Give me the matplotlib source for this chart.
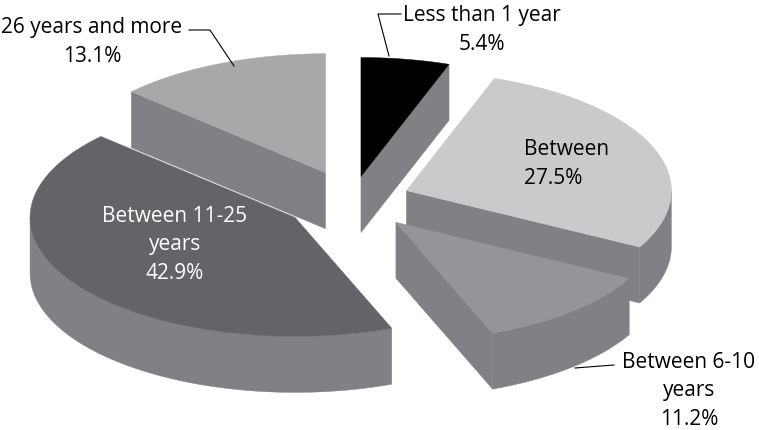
import numpy as np
import matplotlib.pyplot as plt
from matplotlib.patches import Polygon

plt.rcParams['font.family'] = ['Open Sans', 'DejaVu Sans']

# slices, clockwise from 12 o'clock
labels = ["Less than 1 year", "Between", "Between 6-10\nyears", "Between 11-25\nyears", "26 years and more"]
shares = [5.4, 27.5, 11.2, 42.9, 13.1]

top_colors = ["#000000", "#c9cacc", "#939598", "#636467", "#a7a8aa"]
side_color = "#808185"
explode = [0.20, 0.22, 0.25, 0.26, 0.25]

W, H = 759, 431
cx, cy = 352, 201      # pie centre (pixels)
rx, ry = 265, 119      # top ellipse radii
depth = 56             # thickness of the disc


def rim(t, ox, oy, z=0.0):
    t = np.radians(t)
    return np.column_stack([cx + ox + rx * np.cos(t), cy + oy - ry * np.sin(t) + z])


fig = plt.figure(figsize=(W / 100, H / 100), dpi=100)
ax = fig.add_axes([0, 0, 1, 1])
ax.set_xlim(0, W)
ax.set_ylim(H, 0)
ax.axis('off')

fracs = np.array(shares) / sum(shares)
starts = 90 - np.concatenate([[0], np.cumsum(fracs)[:-1]]) * 360
ends = starts - fracs * 360

slices = []
for i in range(len(shares)):
    a2, a1 = starts[i], ends[i]
    mid = np.radians((a1 + a2) / 2)
    ox = explode[i] * rx * np.cos(mid)
    oy = -explode[i] * ry * np.sin(mid)
    slices.append((cy + oy, i, a1, a2, ox, oy))

# back slices first
for _, i, a1, a2, ox, oy in sorted(slices):
    apex = np.array([cx + ox, cy + oy])
    apex_b = apex + [0, depth]
    faces = []
    # radial cut faces
    if np.cos(np.radians(a1)) > 1e-6:
        p, pb = rim([a1], ox, oy)[0], rim([a1], ox, oy, depth)[0]
        faces.append([apex, p, pb, apex_b])
    if np.cos(np.radians(a2)) < -1e-6:
        p, pb = rim([a2], ox, oy)[0], rim([a2], ox, oy, depth)[0]
        faces.append([apex, p, pb, apex_b])
    for f in faces:
        ax.add_patch(Polygon(f, closed=True, fc=side_color, ec=side_color, lw=0.3))
    # outer curved wall, front half only
    for k in (-1, 0, 1):
        lo = max(a1, -180 + 360 * k)
        hi = min(a2, 360 * k)
        if hi > lo:
            t = np.linspace(lo, hi, 80)
            wall = np.vstack([rim(t, ox, oy), rim(t[::-1], ox, oy, depth)])
            ax.add_patch(Polygon(wall, closed=True, fc=side_color, ec=side_color, lw=0.3))
    # top face
    t = np.linspace(a1, a2, 120)
    top = np.vstack([apex, rim(t, ox, oy)])
    ax.add_patch(Polygon(top, closed=True, fc=top_colors[i], ec=top_colors[i], lw=0.3))

fs = 15
ls = 1.45
# data labels
ax.text(92, 42, "26 years and more\n13.1%", ha='center', va='center', fontsize=fs,
        linespacing=ls, color='black')
ax.plot([189, 210, 234], [31, 31, 67], color='black', lw=0.8)

ax.text(482, 30, "Less than 1 year\n5.4%", ha='center', va='center', fontsize=fs,
        linespacing=ls, color='black')
ax.plot([401, 378, 389], [15, 15, 57], color='black', lw=0.8)

ax.text(524, 164, "Between\n27.5%", ha='left', va='center', fontsize=fs,
        linespacing=ls, color='black')

ax.text(175, 245, "Between 11-25\nyears\n42.9%", ha='center', va='center', fontsize=fs,
        linespacing=ls, color='white')

ax.text(689, 391, "Between 6-10\nyears\n11.2%", ha='center', va='center', fontsize=fs,
        linespacing=ls, color='black')
ax.plot([575, 614], [369, 366], color='black', lw=0.8)

fig.savefig("out.png", dpi=100)
